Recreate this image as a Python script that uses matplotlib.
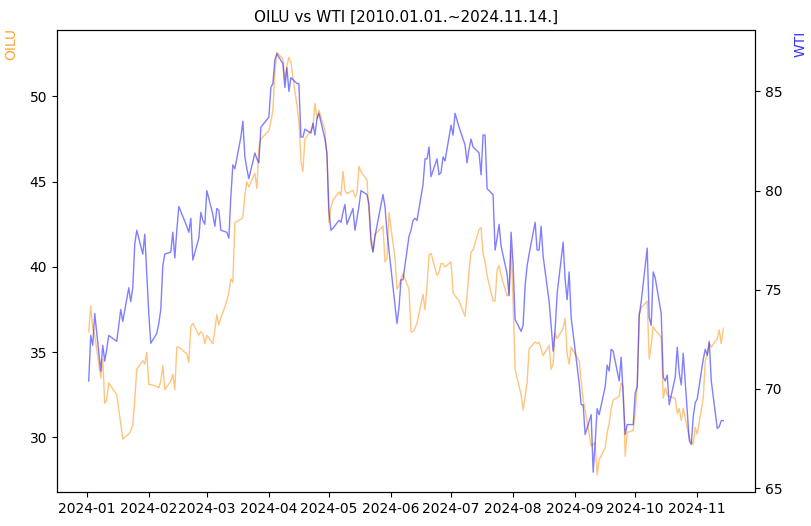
import matplotlib
matplotlib.use("Agg")
import matplotlib.pyplot as plt
import matplotlib.dates as mdates
import pandas as pd

days = {
 "01": ["02","03","04","05","08","09","10","11","12","16","18","19","22","23","24","25","26","29","30","31"],
 "02": ["01","02","05","06","07","08","09","12","13","14","15","16","20","21","22","23","26","27","28","29"],
 "03": ["01","04","05","06","07","08","11","12","13","14","15","18","19","20","21","22","25","26","27","28"],
 "04": ["01","02","03","04","05","08","09","10","11","12","15","16","17","18","19","22","23","24","25","26","29","30"],
 "05": ["01","02","03","06","07","08","09","10","13","14","15","16","17","20","21","22","23","24","28","29","30","31"],
 "06": ["03","04","05","06","07","10","11","12","13","14","17","18","19","20","21","24","25","26","27","28"],
 "07": ["01","02","03","05","08","09","10","11","12","15","16","17","18","19","22","23","24","25","26","29","30","31"],
 "08": ["01","02","05","06","07","08","09","12","13","14","15","16","19","20","21","22","23","26","27","28","29","30"],
 "09": ["03","04","05","06","09","10","11","12","13","16","17","18","19","20","23","24","25","26","27","30"],
 "10": ["01","02","03","04","07","08","09","10","11","14","15","16","17","18","21","22","23","24","25","28","29","30","31"],
 "11": ["01","04","05","06","07","08","11","12","13","14"],
}
dates = pd.to_datetime([f"2024-{m}-{d}" for m in days for d in days[m]])

oilu = [
 36.2,37.7,36.4,36.0,33.5,34.6,32.0,32.2,33.2,32.5,30.8,29.9,30.2,30.4,30.7,32.2,34.0,34.5,34.3,35.0,
 33.1,33.1,33.0,32.9,33.3,34.2,32.8,33.3,33.7,32.8,35.3,35.3,34.9,34.4,36.5,36.7,36.0,36.2,36.1,35.5,
 36.0,35.5,36.3,37.2,36.6,37.0,38.0,38.5,39.3,39.1,42.6,42.8,42.9,44.2,45.0,44.7,45.5,44.6,47.0,47.5,
 48.0,48.5,49.2,51.5,52.6,52.2,51.0,51.8,52.3,52.0,49.5,48.5,46.2,45.6,47.5,48.0,48.2,49.6,48.7,49.2,48.0,46.5,
 42.6,43.5,43.9,44.4,44.2,45.6,44.5,44.3,44.5,44.1,44.3,45.9,45.6,45.1,43.2,41.3,40.9,41.9,42.4,40.3,40.5,43.2,
 40.5,38.7,38.9,39.3,39.6,38.7,36.2,36.2,36.4,36.7,38.4,37.5,38.9,40.7,40.8,39.5,39.7,40.2,40.2,40.0,
 40.3,38.5,38.3,38.0,37.1,38.3,39.8,40.9,41.0,42.2,42.3,40.8,40.3,39.5,38.0,38.0,39.8,40.1,39.5,38.3,38.5,41.0,
 38.0,34.0,32.5,31.6,32.4,33.2,35.2,35.6,35.5,35.6,35.2,34.8,35.4,34.0,34.3,36.1,35.8,36.4,37.0,34.9,34.3,35.3,
 34.5,33.3,32.2,31.6,29.5,29.6,29.7,27.8,28.7,29.4,30.3,30.8,31.7,32.2,32.4,33.2,33.0,28.9,30.3,30.4,
 31.5,33.0,37.2,37.6,38.0,34.6,35.4,36.5,36.3,35.9,32.3,32.9,32.5,32.4,32.3,31.4,31.7,31.0,31.7,30.0,29.8,29.6,30.6,
 30.2,32.3,34.5,34.8,35.5,35.3,35.8,36.3,35.5,36.4,
]
wti = [
 70.4,72.7,72.2,73.8,70.9,72.2,71.4,72.0,72.7,72.4,74.0,73.4,75.1,74.4,75.1,77.3,78.0,76.8,77.8,75.8,
 73.8,72.3,72.8,73.3,74.0,76.2,76.8,76.9,77.9,76.6,78.0,79.2,78.2,77.9,78.6,76.5,77.6,78.9,78.5,78.3,
 80.0,78.8,78.2,79.1,79.0,78.0,77.9,77.6,79.7,81.3,81.1,82.7,83.5,81.7,81.1,80.6,81.9,81.6,81.4,83.2,
 83.7,85.2,85.4,86.6,86.9,86.4,85.2,86.2,85.0,85.7,85.4,85.4,82.7,82.7,83.1,82.9,83.4,82.8,83.6,83.9,82.6,81.9,
 79.0,78.0,78.1,78.5,78.4,78.9,79.3,78.3,79.1,78.0,78.6,79.2,80.0,79.8,79.3,77.6,76.9,77.7,79.8,79.2,77.9,77.0,
 74.2,73.3,74.1,75.5,75.5,77.7,78.0,78.5,78.6,78.5,80.3,81.6,81.6,82.2,80.7,81.6,80.8,80.9,81.7,81.5,
 83.3,82.8,83.9,83.2,82.3,81.4,82.1,82.6,82.2,81.9,80.8,82.8,82.8,80.1,79.8,77.0,77.6,78.3,77.2,75.8,74.7,77.9,
 76.3,73.5,72.9,73.2,75.2,76.2,76.8,78.4,77.0,77.0,78.2,76.7,74.4,73.2,71.9,73.0,74.8,77.4,75.5,74.5,75.9,73.6,
 70.3,69.2,69.2,67.7,68.7,65.8,67.3,69.0,68.7,70.1,71.2,70.9,72.0,71.9,70.4,71.6,69.7,67.7,68.2,68.2,
 69.8,70.1,73.7,74.4,77.1,73.6,73.2,75.9,75.6,73.8,70.6,70.4,70.7,69.2,70.6,72.1,70.8,70.2,71.8,67.4,67.2,68.6,69.3,
 69.5,71.5,72.0,71.7,72.4,70.4,68.0,68.1,68.4,68.4,
]

fig = plt.figure(figsize=(8.11, 5.26), dpi=100)
ax = fig.add_axes([57/811, 1-492/526, (755-57)/811, (492-30)/526])
ax.plot(dates, oilu, color="darkorange", alpha=0.5, lw=1)
ax.set_ylabel("OILU", color="darkorange", alpha=0.8)
ax.yaxis.set_label_coords(-0.055, 0.97)
ax.set_ylim(26.8, 53.9)
ax2 = ax.twinx()
ax2.plot(dates, wti, color="blue", alpha=0.5, lw=1)
ax2.set_ylabel("WTI", color="blue", alpha=0.8)
ax2.yaxis.set_label_coords(1.055, 0.97)
ax2.set_ylim(64.8, 88.1)
ax.xaxis.set_major_locator(mdates.MonthLocator())
ax.xaxis.set_major_formatter(mdates.DateFormatter("%Y-%m"))
ax.set_title("OILU vs WTI [2010.01.01.~2024.11.14.]", fontsize=11)
fig.savefig("out.png", dpi=100)
